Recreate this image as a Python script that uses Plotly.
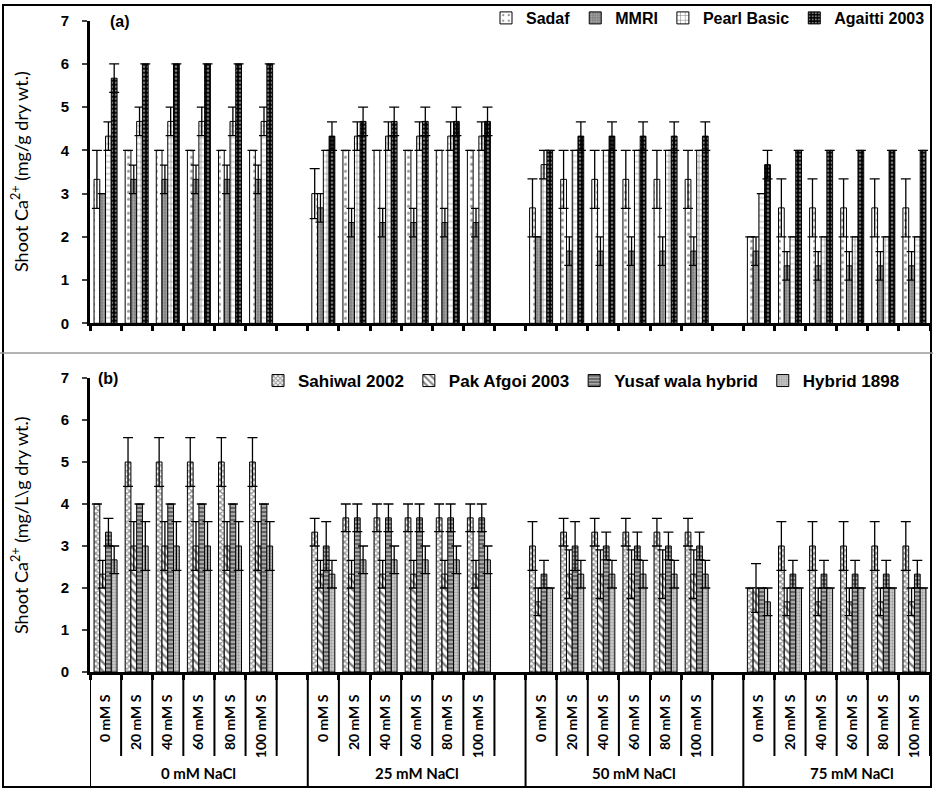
import plotly.graph_objects as go

# ---------------- data ----------------
nacl_levels = ["0 mM NaCl", "25 mM NaCl", "50 mM NaCl", "75 mM NaCl"]
ms_levels = ["0 mM S", "20 mM S", "40 mM S", "60 mM S", "80 mM S", "100 mM S"]

# panel (a)
sadaf = [3.33, 4, 4, 4, 4, 4,   3.0, 4, 4, 4, 4, 4,
         2.67, 3.33, 3.33, 3.33, 3.33, 3.33,   2.0, 2.67, 2.67, 2.67, 2.67, 2.67]
sadaf_err = [0.67, 0, 0, 0, 0, 0,   0.58, 0, 0, 0, 0, 0,
             0.67, 0.67, 0.67, 0.67, 0.67, 0.67,   0, 0.67, 0.67, 0.67, 0.67, 0.67]
mmri = [3.0, 3.33, 3.33, 3.33, 3.33, 3.33,   2.67, 2.33, 2.33, 2.33, 2.33, 2.33,
        2.0, 1.67, 1.67, 1.67, 1.67, 1.67,   1.67, 1.33, 1.33, 1.33, 1.33, 1.33]
mmri_err = [0, 0.33, 0.33, 0.33, 0.33, 0.33,   0.33, 0.33, 0.33, 0.33, 0.33, 0.33,
            0, 0.33, 0.33, 0.33, 0.33, 0.33,   0.33, 0.33, 0.33, 0.33, 0.33, 0.33]
pearl = [4.33, 4.67, 4.67, 4.67, 4.67, 4.67,   4.0, 4.33, 4.33, 4.33, 4.33, 4.33,
         3.67, 4.0, 4.0, 4.0, 4.0, 4.0,   3.0, 2.0, 2.0, 2.0, 2.0, 2.0]
pearl_err = [0.33, 0.33, 0.33, 0.33, 0.33, 0.33,   0, 0.33, 0.33, 0.33, 0.33, 0.33,
             0.33, 0, 0, 0, 0, 0,   0, 0, 0, 0, 0, 0]
agaitti = [5.67, 6, 6, 6, 6, 6,   4.33, 4.67, 4.67, 4.67, 4.67, 4.67,
           4.0, 4.33, 4.33, 4.33, 4.33, 4.33,   3.67, 4.0, 4.0, 4.0, 4.0, 4.0]
agaitti_err = [0.33, 0, 0, 0, 0, 0,   0.33, 0.33, 0.33, 0.33, 0.33, 0.33,
               0, 0.33, 0.33, 0.33, 0.33, 0.33,   0.33, 0, 0, 0, 0, 0]

# panel (b)
sahiwal = [4.0, 5, 5, 5, 5, 5,   3.33, 3.67, 3.67, 3.67, 3.67, 3.67,
           3.0, 3.33, 3.33, 3.33, 3.33, 3.33,   2.0, 3.0, 3.0, 3.0, 3.0, 3.0]
sahiwal_err = [0, 0.58, 0.58, 0.58, 0.58, 0.58,   0.33, 0.33, 0.33, 0.33, 0.33, 0.33,
               0.58, 0.33, 0.33, 0.33, 0.33, 0.33,   0, 0.58, 0.58, 0.58, 0.58, 0.58]
pak = [2.33, 3.0, 3.0, 3.0, 3.0, 3.0,   2.33, 2.33, 2.33, 2.33, 2.33, 2.33,
       1.67, 2.33, 2.33, 2.33, 2.33, 2.33,   2.0, 1.67, 1.67, 1.67, 1.67, 1.67]
pak_err = [0.33, 0.58, 0.58, 0.58, 0.58, 0.58,   0.33, 0.33, 0.33, 0.33, 0.33, 0.33,
           0.33, 0.58, 0.58, 0.58, 0.58, 0.58,   0.58, 0.33, 0.33, 0.33, 0.33, 0.33]
yusaf = [3.33, 4.0, 4.0, 4.0, 4.0, 4.0,   3.0, 3.67, 3.67, 3.67, 3.67, 3.67,
         2.33, 3.0, 3.0, 3.0, 3.0, 3.0,   2.0, 2.33, 2.33, 2.33, 2.33, 2.33]
yusaf_err = [0.33, 0, 0, 0, 0, 0,   0.58, 0.33, 0.33, 0.33, 0.33, 0.33,
             0.33, 0.58, 0.33, 0.33, 0.33, 0.33,   0, 0.33, 0.33, 0.33, 0.33, 0.33]
hybrid = [2.67, 3.0, 3.0, 3.0, 3.0, 3.0,   2.33, 2.67, 2.67, 2.67, 2.67, 2.67,
          2.0, 2.33, 2.33, 2.33, 2.33, 2.33,   1.67, 2.0, 2.0, 2.0, 2.0, 2.0]
hybrid_err = [0.33, 0.58, 0.58, 0.58, 0.58, 0.58,   0.33, 0.33, 0.33, 0.33, 0.33, 0.33,
              0, 0.33, 0.33, 0.33, 0.33, 0.33,   0.33, 0, 0, 0, 0, 0]

# ---------------- geometry helpers ----------------
W, H = 933, 791
L, R = 90, 930          # plot area left / right (px)
SLOT = 7                # 6 MS levels + 1 empty slot per NaCl block

def pxx(p):
    return (p - L) / (R - L)

def pxy(p):
    return 1 - p / H

xpos = [b * SLOT + i for b in range(len(nacl_levels)) for i in range(len(ms_levels))]

ya_top, ya_bot = 20.7, 323.3
yb_top, yb_bot = 378.0, 672.0

fig = go.Figure()

def add_bar(name, vals, errs, axis, legend, bg, fg, shape, size, solidity):
    fig.add_trace(go.Bar(
        x=xpos, y=vals, name=name,
        xaxis="x" if axis == 1 else "x2",
        yaxis="y" if axis == 1 else "y2",
        legend=legend,
        marker=dict(color=bg, line=dict(color="black", width=1),
                    pattern=dict(shape=shape, bgcolor=bg, fgcolor=fg,
                                 size=size, solidity=solidity)),
        error_y=dict(type="data", array=errs, visible=True,
                     color="black", thickness=1.3, width=5),
    ))

add_bar("Sadaf", sadaf, sadaf_err, 1, "legend", "white", "#333333", ".", 7, 0.15)
add_bar("MMRI", mmri, mmri_err, 1, "legend", "#7a7a7a", "#d8d8d8", ".", 3, 0.45)
add_bar("Pearl Basic", pearl, pearl_err, 1, "legend", "white", "black", "+", 6, 0.2)
add_bar("Agaitti 2003", agaitti, agaitti_err, 1, "legend", "black", "white", ".", 4, 0.35)

add_bar("Sahiwal 2002", sahiwal, sahiwal_err, 2, "legend2", "white", "#222222", "x", 4, 0.55)
add_bar("Pak Afgoi 2003", pak, pak_err, 2, "legend2", "white", "black", "\\", 6, 0.4)
add_bar("Yusaf wala hybrid", yusaf, yusaf_err, 2, "legend2", "#a8a8a8", "#111111", "-", 4, 0.45)
add_bar("Hybrid 1898", hybrid, hybrid_err, 2, "legend2", "#c8c8c8", "#6a6a6a", ".", 3, 0.35)

n_slots = len(nacl_levels) * SLOT
boundaries = [k - 0.5 for k in range(n_slots)]
centers = xpos

axis_font = dict(family="Liberation Sans, Arial", size=15, color="black", weight="bold")

common_x = dict(range=[-0.5, n_slots - 1.5], showgrid=False, zeroline=False,
                showline=True, linecolor="black", linewidth=3, automargin=False)
common_y = dict(range=[0, 7], dtick=1, showgrid=False, zeroline=False, showline=True,
                linecolor="black", linewidth=3, ticks="outside", ticklen=5, tickwidth=2,
                tickfont=axis_font, ticklabelstandoff=10, automargin=False)
fig.update_layout(
    width=W, height=H,
    margin=dict(l=L, r=W - R, t=0, b=0, autoexpand=False),
    paper_bgcolor="white", plot_bgcolor="white",
    barmode="group", bargap=0.26, bargroupgap=0,
    xaxis=dict(domain=[0, 1], anchor="y", tickmode="array", tickvals=boundaries,
               ticks="outside", ticklen=5, tickwidth=3, tickcolor="black",
               showticklabels=False, **common_x),
    yaxis=dict(domain=[pxy(ya_bot), pxy(ya_top)], anchor="x", **common_y),
    xaxis2=dict(domain=[0, 1], anchor="y2", tickmode="array", tickvals=centers,
                ticktext=[ms_levels[i % len(ms_levels)] for i in range(len(centers))],
                tickangle=-90, ticks="", ticklabelstandoff=14,
                tickfont=dict(family="Lato, Open Sans", size=14, color="black", weight="bold"),
                minor=dict(tickmode="array", tickvals=boundaries, ticks="outside",
                           ticklen=5, tickwidth=3, tickcolor="black"),
                **common_x),
    yaxis2=dict(domain=[pxy(yb_bot), pxy(yb_top)], anchor="x2", **common_y),
    legend=dict(orientation="h", x=1.0, xanchor="right", y=pxy(1), yanchor="top",
                font=dict(family="Liberation Sans, Arial", size=16, color="black", weight="bold"),
                itemwidth=30, bgcolor="rgba(0,0,0,0)", traceorder="normal"),
    legend2=dict(orientation="h", x=pxx(905), xanchor="right", y=pxy(363), yanchor="top",
                 font=dict(family="Liberation Sans, Arial", size=17, color="black", weight="bold"),
                 itemwidth=30, bgcolor="rgba(0,0,0,0)", traceorder="normal"),
    showlegend=True,
)

ann_font = dict(family="Liberation Sans, Arial", size=16, color="black")
# panel labels and y titles
fig.add_annotation(text="<b>(a)</b>", x=pxx(120), y=pxy(21), xref="paper", yref="paper",
                   xanchor="center", yanchor="middle", showarrow=False, font=ann_font)
fig.add_annotation(text="<b>(b)</b>", x=pxx(108), y=pxy(378), xref="paper", yref="paper",
                   xanchor="center", yanchor="middle", showarrow=False, font=ann_font)
title_font = dict(family="Lato, Open Sans", size=18, color="black")
fig.add_annotation(text="Shoot Ca<sup>2+</sup> (mg/g dry wt.)", x=pxx(20), y=pxy((ya_top + ya_bot) / 2),
                   xref="paper", yref="paper", xanchor="center", yanchor="middle",
                   textangle=-90, showarrow=False, font=title_font)
fig.add_annotation(text="Shoot Ca<sup>2+</sup> (mg/L\\g dry wt.)", x=pxx(20), y=pxy((yb_top + yb_bot) / 2),
                   xref="paper", yref="paper", xanchor="center", yanchor="middle",
                   textangle=-90, showarrow=False, font=title_font)

# NaCl group labels
span = yb_bot - yb_top
for b, lab in enumerate(nacl_levels):
    fig.add_annotation(text=lab, x=b * SLOT + (SLOT - 1) / 2, y=-(773 - yb_bot) / span,
                       xref="x2", yref="y2 domain", xanchor="center", yanchor="middle",
                       showarrow=False,
                       font=dict(family="Lato, Open Sans", size=15, color="black", weight="bold"))

shapes = []
# long separators between NaCl blocks
for b in range(len(nacl_levels)):
    xb = b * SLOT - 0.5
    shapes.append(dict(type="line", xref="x2", yref="y2 domain", x0=xb, x1=xb,
                       y0=0, y1=-(788 - yb_bot) / span, line=dict(color="black", width=2)))
# short separators between MS labels
for b in range(len(nacl_levels)):
    for i in range(len(ms_levels)):
        xs = b * SLOT + i + 0.5
        shapes.append(dict(type="line", xref="x2", yref="y2 domain", x0=xs, x1=xs,
                           y0=0, y1=-(756 - yb_bot) / span, line=dict(color="black", width=2)))
# outer frame and separator between the two charts
shapes.append(dict(type="rect", xref="paper", yref="paper", x0=pxx(3), x1=pxx(931),
                   y0=pxy(787), y1=pxy(5), line=dict(color="black", width=2)))
shapes.append(dict(type="line", xref="paper", yref="paper", x0=pxx(0), x1=pxx(933),
                   y0=pxy(353), y1=pxy(353), line=dict(color="#9a9a9a", width=1.5)))
fig.update_layout(shapes=shapes)

fig.write_html("out.html")
